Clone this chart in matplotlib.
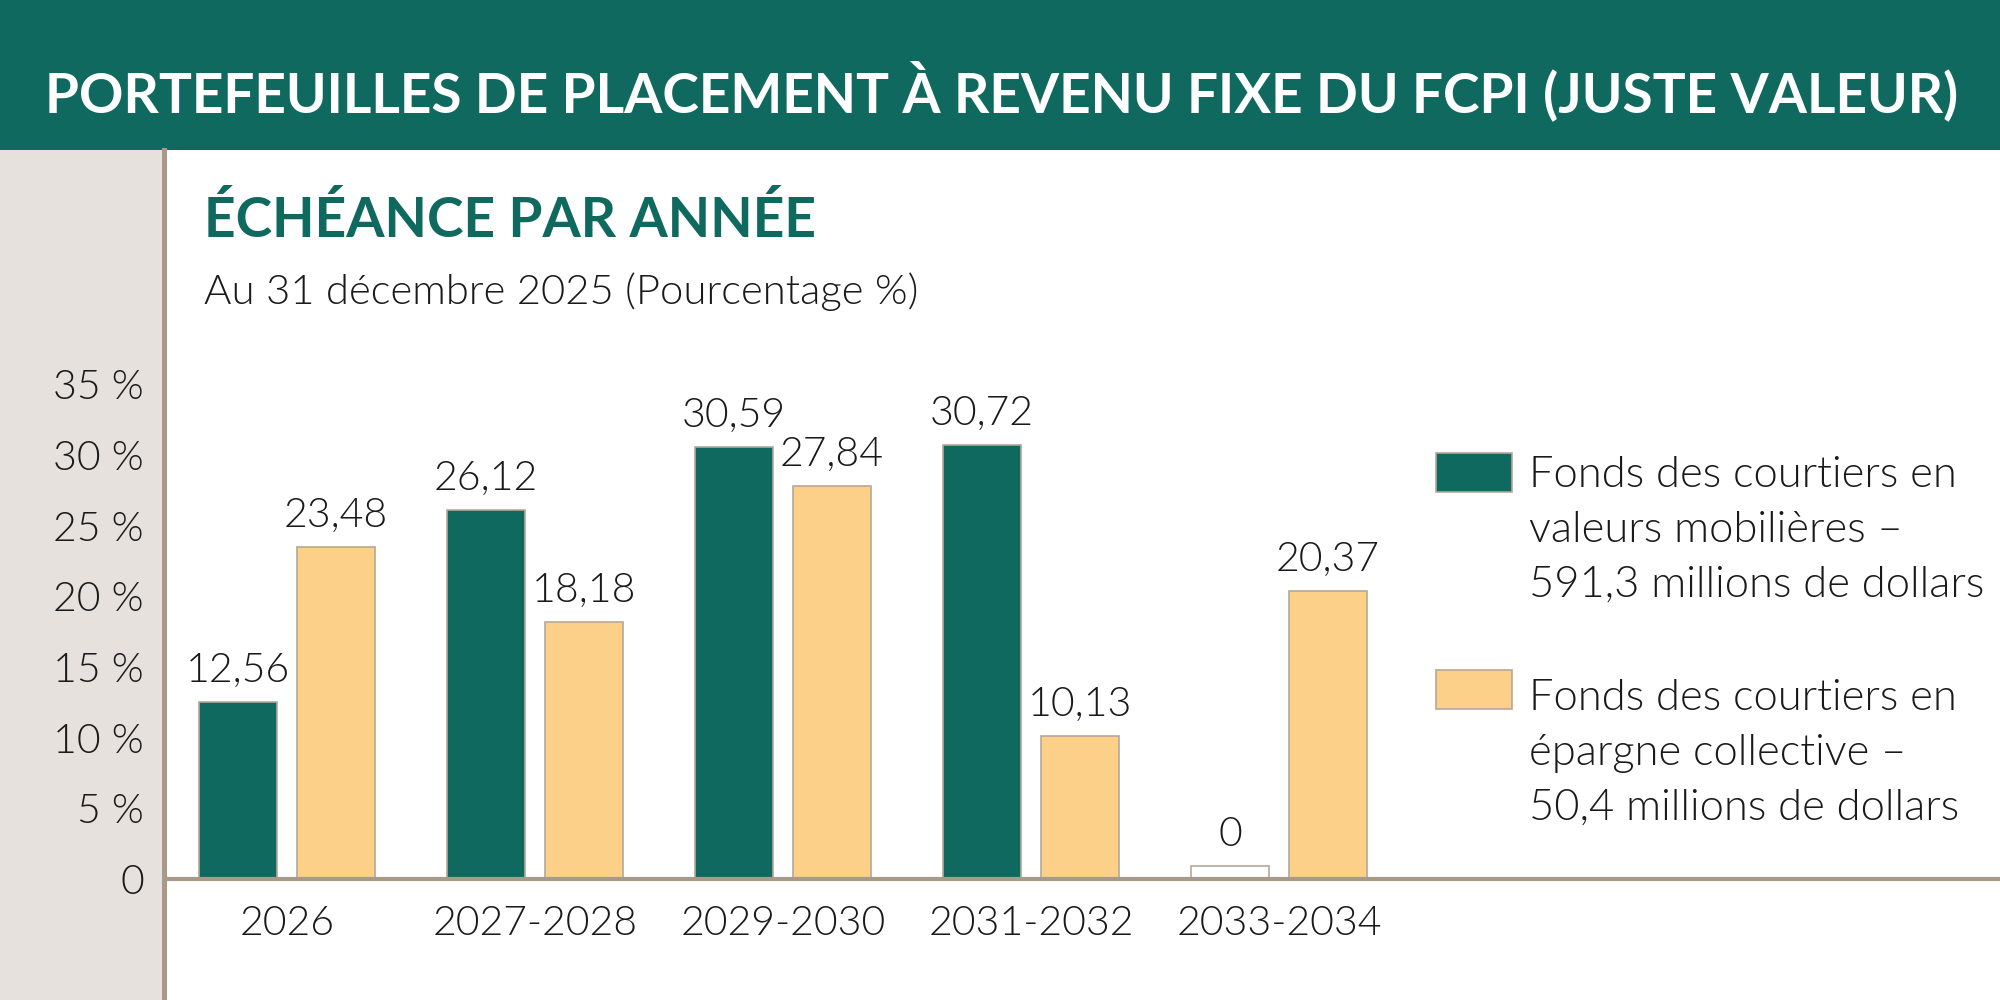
import matplotlib
matplotlib.use('Agg')
from matplotlib import pyplot as plt
from matplotlib.patches import Rectangle
from matplotlib.lines import Line2D
import numpy as np

periods = ['2026', '2027-2028', '2029-2030', '2031-2032', '2033-2034']
valeurs_mobilieres = [12.56, 26.12, 30.59, 30.72, 0]
epargne_collective = [23.48, 18.18, 27.84, 10.13, 20.37]
y_ticks = [0, 5, 10, 15, 20, 25, 30, 35]
legend_labels = [
    ['Fonds des courtiers en', 'valeurs mobilières –', '591,3 millions de dollars'],
    ['Fonds des courtiers en', 'épargne collective –', '50,4 millions de dollars'],
]

teal = '#10695E'
sand = '#FCD088'
edge = '#B5A898'
axis_col = '#A89A8A'
panel = '#E6E1DD'
text_col = '#1A1A1A'
thin = 300

plt.rcParams['font.family'] = ['Lato', 'DejaVu Sans']

fig = plt.figure(figsize=(20, 10), dpi=100)
W, H = 2000, 1000


def fx(px):
    return px / W


def fy(py):
    return 1 - py / H


# header band and left panel
fig.patches.append(Rectangle((0, fy(150)), 1, 150 / H, transform=fig.transFigure,
                             facecolor=teal, edgecolor='none', zorder=0))
fig.patches.append(Rectangle((0, 0), fx(162), fy(150), transform=fig.transFigure,
                             facecolor=panel, edgecolor='none', zorder=0))
fig.add_artist(Line2D([fx(163.5), fx(163.5)], [0, fy(150)], color=axis_col,
                      linewidth=3.6, transform=fig.transFigure, zorder=1))

title = fig.text(fx(1001.5), fy(112),
                 'PORTEFEUILLES DE PLACEMENT À REVENU FIXE DU FCPI (JUSTE VALEUR)',
                 ha='center', va='baseline', color='white', fontsize=39.5, fontweight='bold')
# fit the title to the width of the band text
renderer = fig.canvas.get_renderer()
tw = title.get_window_extent(renderer).width
title.set_fontsize(39.5 * 1917 / tw)

fig.text(fx(204), fy(237), 'ÉCHÉANCE PAR ANNÉE', ha='left', va='baseline',
         color=teal, fontsize=39.7, fontweight='bold')
fig.text(fx(204), fy(304), 'Au 31 décembre 2025 (Pourcentage %)', ha='left', va='baseline',
         color=text_col, fontsize=30.2, fontweight=thin)

# axes: 0 at y=879 px, ~14.13 px per unit
ppu = 14.13
ax = fig.add_axes([fx(166), fy(879), 1 - fx(166), 40 * ppu / H])
ax.set_zorder(2)
ax.set_facecolor('none')
x = np.arange(len(periods))
bw = 78 / 248
off = (78 / 2 + 10) / 248
ax.set_xlim((166 - 287) / 248, (2000 - 287) / 248)
ax.set_ylim(0, 40)

vm_heights = [v if v > 0 else 0.9 for v in valeurs_mobilieres]
vm_faces = [teal if v > 0 else 'white' for v in valeurs_mobilieres]
bars1 = ax.bar(x - off, vm_heights, bw, color=vm_faces, edgecolor=edge, linewidth=1.2, zorder=2)
bars2 = ax.bar(x + off, epargne_collective, bw, color=sand, edgecolor=edge, linewidth=1.2, zorder=2)

for bars, vals in ((bars1, valeurs_mobilieres), (bars2, epargne_collective)):
    for b, v in zip(bars, vals):
        lab = '0' if v == 0 else f'{v:.2f}'.replace('.', ',')
        ax.annotate(lab, (b.get_x() + b.get_width() / 2, b.get_height()),
                    xytext=(0, 14.5), textcoords='offset points', ha='center', va='baseline',
                    fontsize=29.5, fontweight=thin, color=text_col)

ax.axhline(0, color=axis_col, linewidth=3, zorder=3, clip_on=False)
for s in ax.spines.values():
    s.set_visible(False)

ax.set_yticks(y_ticks)
ax.set_yticklabels([f'{t} %' if t else '0' for t in y_ticks])
ax.set_xticks(x)
ax.set_xticklabels(periods)
ax.tick_params(axis='y', length=0, pad=16, labelsize=29.5, labelcolor=text_col)
ax.tick_params(axis='x', length=0, pad=19, labelsize=29.5, labelcolor=text_col)
for lbl in ax.get_xticklabels() + ax.get_yticklabels():
    lbl.set_fontweight(thin)

# legend
for i, (col, lines) in enumerate(zip([teal, sand], legend_labels)):
    top = 453 + i * 217
    fig.patches.append(Rectangle((fx(1436), fy(top + 39)), 76 / W, 39 / H,
                                 transform=fig.transFigure, facecolor=col,
                                 edgecolor=edge, linewidth=1.2))
    for j, line in enumerate(lines):
        fig.text(fx(1529), fy(487 + i * 223 + j * 55), line, ha='left', va='baseline',
                 fontsize=31.3, fontweight=thin, color=text_col)

fig.savefig('out.png', dpi=100)
